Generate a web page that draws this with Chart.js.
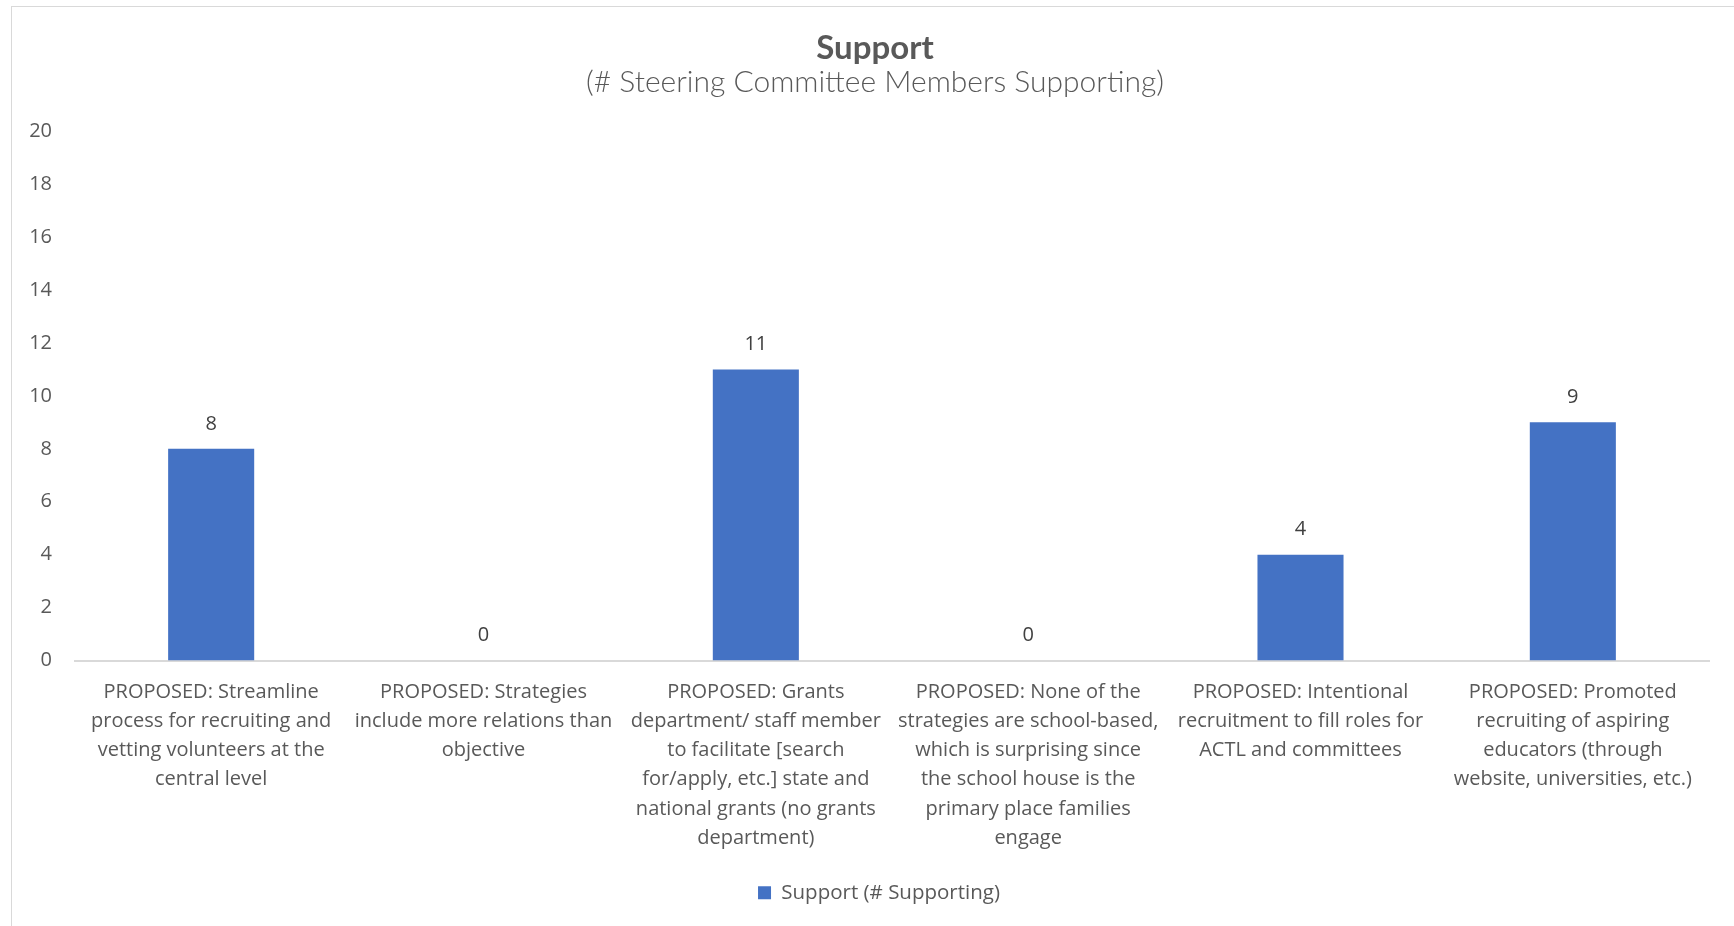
<!DOCTYPE html>
<html>
<head>
<meta charset="utf-8">
<script src="https://cdn.jsdelivr.net/npm/chart.js@4/dist/chart.umd.min.js"></script>
<style>
  html, body { margin: 0; padding: 0; background: #ffffff; overflow: hidden; }
  #frame { position: absolute; left: 11px; top: 6px; width: 1760px; height: 960px;
           border-left: 1px solid #d9d9d9; border-top: 1px solid #d9d9d9; }
  #wrap { position: absolute; left: 0; top: 0; width: 1760px; height: 926px; }
</style>
</head>
<body>
<div id="frame"></div>
<div id="wrap"><canvas id="chart"></canvas></div>
<script>
// Proposed strategies (each label split into its display lines)
const categories = [
  ["PROPOSED: Streamline", "process for recruiting and", "vetting volunteers at the", "central level"],
  ["PROPOSED: Strategies", "include more relations than", "objective"],
  ["PROPOSED: Grants", "department/ staff member", "to facilitate [search", "for/apply, etc.] state and", "national grants (no grants", "department)"],
  ["PROPOSED: None of the", "strategies are school-based,", "which is surprising since", "the school house is the", "primary place families", "engage"],
  ["PROPOSED: Intentional", "recruitment to fill roles for", "ACTL and committees"],
  ["PROPOSED: Promoted", "recruiting of aspiring", "educators (through", "website, universities, etc.)"]
];

// Number of steering committee members supporting each strategy
const supportValues = [8, 0, 11, 0, 4, 9];

// Value axis
const yMin = 0;
const yMax = 20;
const yStep = 2;

const seriesName = "Support (# Supporting)";
const chartTitle = "Support";
const chartSubtitle = "(# Steering Committee Members Supporting)";

const HEAD_FONT = "Lato, 'Open Sans', sans-serif";
const FONT = "'Open Sans', 'Noto Sans', sans-serif";
const TEXT = "#595959";
const BAR = "#4472C4";

// Writes each value just above its bar
const valueLabels = {
  id: "valueLabels",
  afterDatasetsDraw(chart) {
    const ctx = chart.ctx;
    const meta = chart.getDatasetMeta(0);
    ctx.save();
    ctx.font = "20px " + FONT;
    ctx.fillStyle = "#404040";
    ctx.textAlign = "center";
    ctx.textBaseline = "middle";
    meta.data.forEach((bar, i) => {
      ctx.fillText(String(supportValues[i]), bar.x, bar.y - 25);
    });
    ctx.restore();
  }
};

// Lets the value-axis labels use the space left of the axis box,
// and nudges the legend slightly right
const layoutTweaks = {
  id: "layoutTweaks",
  afterLayout(chart) {
    chart.scales.y.left = 0;
    chart.legend.left += 4;
    chart.legend.right += 4;
  }
};

new Chart(document.getElementById("chart"), {
  type: "bar",
  data: {
    labels: categories,
    datasets: [{
      label: seriesName,
      data: supportValues,
      backgroundColor: BAR,
      borderWidth: 0,
      categoryPercentage: 1.0,
      barPercentage: 0.316
    }]
  },
  options: {
    responsive: true,
    maintainAspectRatio: false,
    animation: false,
    layout: { padding: { left: 41, right: 51, top: 0, bottom: 13 } },
    plugins: {
      title: {
        display: true,
        text: chartTitle,
        color: TEXT,
        font: { family: HEAD_FONT, size: 33, weight: "bold", lineHeight: 1.1 },
        padding: { top: 30, bottom: 0 }
      },
      subtitle: {
        display: true,
        text: chartSubtitle,
        color: TEXT,
        font: { family: HEAD_FONT, size: 30, weight: "300", lineHeight: 1.1 },
        padding: { top: 0, bottom: 32 }
      },
      legend: {
        position: "bottom",
        labels: {
          color: TEXT,
          font: { family: FONT, size: 20.5 },
          boxWidth: 13,
          boxHeight: 13,
          padding: 10
        }
      },
      tooltip: { enabled: false }
    },
    scales: {
      x: {
        grid: { display: false, drawTicks: false },
        border: { display: true, color: "#d9d9d9", width: 2 },
        ticks: {
          color: TEXT,
          font: { family: FONT, size: 20, lineHeight: 1.46 },
          maxRotation: 0,
          minRotation: 0,
          autoSkip: false,
          padding: 17
        },
        afterFit(scale) { scale.height = 212; }
      },
      y: {
        min: yMin,
        max: yMax,
        grid: { display: false, drawTicks: false },
        border: { display: false },
        ticks: {
          stepSize: yStep,
          color: TEXT,
          font: { family: FONT, size: 20 },
          padding: 23
        },
        afterFit(scale) { scale.width = 34; }
      }
    }
  },
  plugins: [valueLabels, layoutTweaks]
});
</script>
</body>
</html>
